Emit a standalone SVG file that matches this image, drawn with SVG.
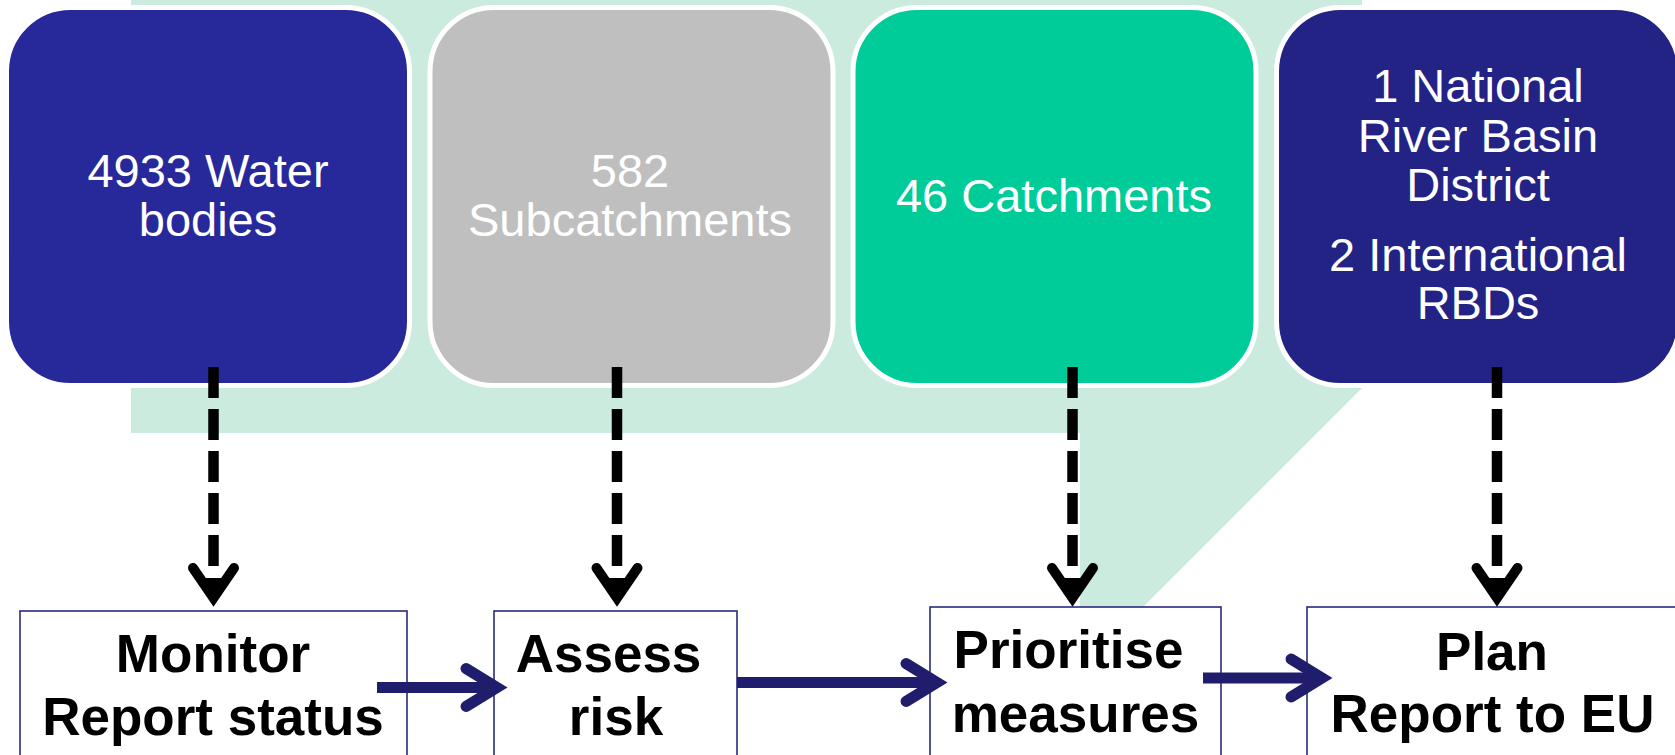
<svg xmlns="http://www.w3.org/2000/svg" width="1675" height="755" viewBox="0 0 1675 755">
<defs>
<style>
.top{stroke:#ffffff;stroke-width:5}
.tt{font-family:"Liberation Sans",Arial,sans-serif;font-size:47px;fill:#ffffff;text-anchor:middle}
.bx{fill:#ffffff;stroke:#2a2a7e;stroke-width:1.6}
.bt{font-family:"Liberation Sans",Arial,sans-serif;font-size:53px;font-weight:bold;fill:#000000;text-anchor:middle}
.dash{stroke:#000000;stroke-width:10.5;stroke-dasharray:31 11;fill:none}
.dhead{stroke:#000000;stroke-width:10;stroke-linecap:round;stroke-linejoin:miter;fill:none}
.flow{stroke:#201d6c;stroke-width:11;fill:none}
.fhead{stroke:#201d6c;stroke-width:11;stroke-linecap:round;stroke-linejoin:miter;fill:none}
</style>
</defs>
<rect width="1675" height="755" fill="#ffffff"/>
<polygon points="131,0 1362,0 1362,388 1080,670 1080,433 131,433" fill="#cbebdf"/>
<g id="node-water-bodies">
<rect class="top" x="6.5" y="7.5" width="403" height="378" rx="64" fill="#27289a"/>
<text class="tt" x="208" y="187">4933 Water</text>
<text class="tt" x="208" y="236">bodies</text>
</g>
<g id="node-subcatchments">
<rect class="top" x="430" y="7.5" width="403" height="378" rx="64" fill="#bfbfbf"/>
<text class="tt" x="630" y="187">582</text>
<text class="tt" x="630" y="236">Subcatchments</text>
</g>
<g id="node-catchments">
<rect class="top" x="853" y="7.5" width="403" height="378" rx="64" fill="#00cc99"/>
<text class="tt" x="1054" y="212">46 Catchments</text>
</g>
<g id="node-rbd">
<rect class="top" x="1276.5" y="7.5" width="403" height="378" rx="64" fill="#232285"/>
<text class="tt" x="1478" y="102">1 National</text>
<text class="tt" x="1478" y="152">River Basin</text>
<text class="tt" x="1478" y="201">District</text>
<text class="tt" x="1478" y="271">2 International</text>
<text class="tt" x="1478" y="319">RBDs</text>
</g>
<g id="node-monitor">
<rect class="bx" x="20" y="611" width="387" height="160"/>
<text class="bt" x="213" y="672">Monitor</text>
<text class="bt" x="213" y="735">Report status</text>
</g>
<g id="node-assess">
<rect class="bx" x="494" y="611" width="243" height="160"/>
<text class="bt" x="608.5" y="672">Assess</text>
<text class="bt" x="616" y="735">risk</text>
</g>
<g id="node-prioritise">
<rect class="bx" x="930" y="607" width="291" height="160"/>
<text class="bt" x="1068.5" y="668">Prioritise</text>
<text class="bt" x="1075.5" y="732">measures</text>
</g>
<g id="node-plan">
<rect class="bx" x="1307" y="607" width="380" height="160"/>
<text class="bt" x="1492" y="670">Plan</text>
<text class="bt" x="1492.5" y="732">Report to EU</text>
</g>
<g id="connectors">
<line class="dash" x1="213.5" y1="367" x2="213.5" y2="567"/>
<path class="dhead" d="M193,568 L213.5,598 L234,568"/>
<path d="M200,578 L227,578 L213.5,605 Z" fill="#000000"/>
<line class="dash" x1="617" y1="367" x2="617" y2="567"/>
<path class="dhead" d="M596.5,568 L617,598 L637.5,568"/>
<path d="M603.5,578 L630.5,578 L617,605 Z" fill="#000000"/>
<line class="dash" x1="1072.5" y1="367" x2="1072.5" y2="567"/>
<path class="dhead" d="M1052,568 L1072.5,598 L1093,568"/>
<path d="M1059,578 L1086,578 L1072.5,605 Z" fill="#000000"/>
<line class="dash" x1="1497" y1="367" x2="1497" y2="567"/>
<path class="dhead" d="M1476.5,568 L1497,598 L1517.5,568"/>
<path d="M1483.5,578 L1510.5,578 L1497,605 Z" fill="#000000"/>
<line class="flow" x1="377" y1="687.5" x2="497" y2="687.5"/>
<path class="fhead" d="M466,668.5 L497,687.5 L466,706.5"/>
<line class="flow" x1="737" y1="682.5" x2="937" y2="682.5"/>
<path class="fhead" d="M906,663.5 L937,682.5 L906,701.5"/>
<line class="flow" x1="1203" y1="678" x2="1322" y2="678"/>
<path class="fhead" d="M1291,659 L1322,678 L1291,697"/>
</g>
</svg>
